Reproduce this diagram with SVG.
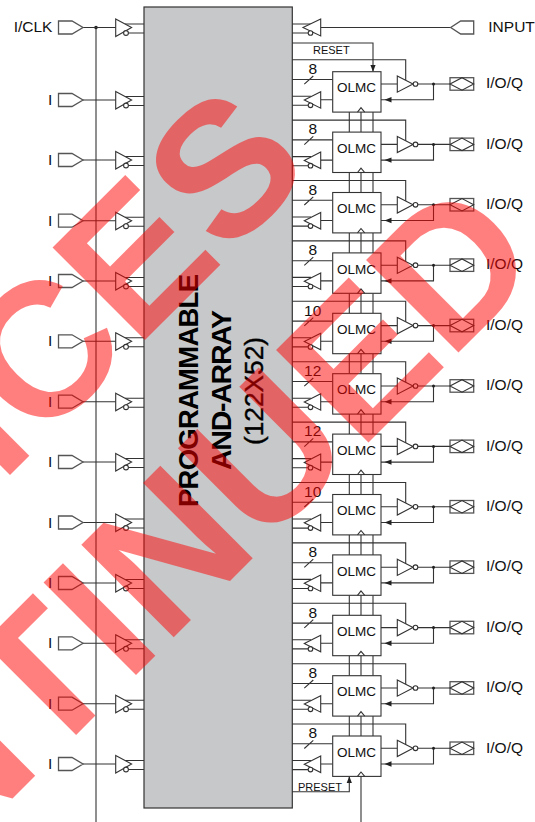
<svg xmlns="http://www.w3.org/2000/svg" xmlns:xlink="http://www.w3.org/1999/xlink" width="535" height="822" viewBox="0 0 535 822">
<style>
text{font-family:"Liberation Sans",Arial,sans-serif;fill:#111}
.w{fill:none;stroke:#333;stroke-width:1.1}
.s{fill:#fff;stroke:#333;stroke-width:1.1}
.p{fill:#fff;stroke:#555;stroke-width:1.3}
.d{fill:#222}
.l{font-size:15.5px}
.n{font-size:15.5px;text-anchor:middle}
.t{font-size:13.5px;text-anchor:middle}
.c{font-size:11px}
.a{font-weight:700;text-anchor:middle;fill:#000}
.wm{font-size:190px;font-weight:700;fill:#f00;fill-opacity:.5;letter-spacing:.5px}
</style>
<defs>
<g id="inW"><path class="w" d="M83 0H116M125 -3.5H144M128 5.5H144"/></g>
<g id="inN">
<path class="p" d="M58.5 -6.5H72L83 0L72 6.5H58.5Z"/>
<path class="s" d="M115.7 -8.5L131.6 0L115.7 9Z"/>
<circle class="s" cx="126" cy="5.5" r="2.4"/>
</g>
<g id="rowW">
<path class="w" d="M292 -12H405.7V8.8M292 7.8H332.7M304.3 12.5L313.3 4.3M381 12.3H397.3M418 12.3H450M433.5 12.3V28H381M332.7 28H320.7M292 24.5H311M292 33.6H308.2"/>
<path class="d" d="M384.5 28L391.5 25.3V30.7Z"/>
<circle class="d" cx="433.5" cy="12.3" r="1.5"/>
</g>
<g id="rowL"><path class="w" d="M349.3 40.4V60.4M361 36V60.4M373 40.4V60.4"/></g>
<g id="rowN">
<rect class="s" x="332.7" y="0" width="48.3" height="40.4"/>
<path class="w" d="M357.5 40.4L361 36L364.7 40.4"/>
<path class="s" d="M397.3 4.3L413 12.3L397.3 20.5Z"/>
<circle class="s" cx="415.5" cy="12.3" r="2.3"/>
<rect class="p" x="450" y="6" width="23.7" height="12.5"/>
<path class="w" d="M450 12.3L462 6L473.7 12.3L462 18.5Z"/>
<path class="s" d="M320.7 20L304.3 28.3L320.7 36.5Z"/>
<circle class="s" cx="310.5" cy="33.6" r="2.3"/>
</g>
</defs>

<g id="block"><rect x="144" y="7" width="148.3" height="801" fill="#c7c8ca" stroke="#333" stroke-width="1.2"/>
<text class="a" font-size="27.5" transform="translate(198,390.5) rotate(-90)" textLength="233" lengthAdjust="spacing">PROGRAMMABLE</text>
<text class="a" font-size="28.5" transform="translate(231,390) rotate(-90)" textLength="160" lengthAdjust="spacing">AND-ARRAY</text>
<text font-size="26.3" text-anchor="middle" transform="translate(263,391) rotate(-90)" style="fill:#000;stroke:#000;stroke-width:.4">(122X52)</text>
</g>

<g id="connectors">
<path class="w" d="M96 27.5V822" stroke-width="1.3"/>
<circle class="d" cx="96" cy="27.5" r="1.8"/>
<use href="#inW" y="27.5"/><use href="#inW" y="100"/><use href="#inW" y="160"/><use href="#inW" y="220.7"/><use href="#inW" y="281"/><use href="#inW" y="341.3"/><use href="#inW" y="401.7"/><use href="#inW" y="462"/><use href="#inW" y="522.5"/><use href="#inW" y="583"/><use href="#inW" y="643.3"/><use href="#inW" y="703.7"/><use href="#inW" y="764"/>
<path class="w" d="M320.7 27.5H450.7M292 24H311M292 33H308.2"/>
<path class="w" d="M292 43H373V71.7"/>
<path class="d" d="M373 71.7L370.4 65H375.6Z"/>
<path class="w" d="M292 791.7H349.3V776.3M361 772V822"/>
<path class="d" d="M349.3 776.3L346.7 783H351.9Z"/>
<use href="#rowW" y="71.7"/><use href="#rowW" y="132.1"/><use href="#rowW" y="192.5"/><use href="#rowW" y="252.9"/><use href="#rowW" y="313.3"/><use href="#rowW" y="373.7"/><use href="#rowW" y="434.1"/><use href="#rowW" y="494.5"/><use href="#rowW" y="554.9"/><use href="#rowW" y="615.3"/><use href="#rowW" y="675.7"/><use href="#rowW" y="736"/>
<use href="#rowL" y="71.7"/><use href="#rowL" y="132.1"/><use href="#rowL" y="192.5"/><use href="#rowL" y="252.9"/><use href="#rowL" y="313.3"/><use href="#rowL" y="373.7"/><use href="#rowL" y="434.1"/><use href="#rowL" y="494.5"/><use href="#rowL" y="554.9"/><use href="#rowL" y="615.3"/><use href="#rowL" y="675.7"/>
</g>

<g id="in-clk"><use href="#inN" y="27.5"/><text class="l" x="13.7" y="32">I/CLK</text></g>
<g id="in-1"><use href="#inN" y="100"/><text class="l" x="48" y="105">I</text></g>
<g id="in-2"><use href="#inN" y="160"/><text class="l" x="48" y="165">I</text></g>
<g id="in-3"><use href="#inN" y="220.7"/><text class="l" x="48" y="225.7">I</text></g>
<g id="in-4"><use href="#inN" y="281"/><text class="l" x="48" y="286">I</text></g>
<g id="in-5"><use href="#inN" y="341.3"/><text class="l" x="48" y="346.3">I</text></g>
<g id="in-6"><use href="#inN" y="401.7"/><text class="l" x="48" y="406.7">I</text></g>
<g id="in-7"><use href="#inN" y="462"/><text class="l" x="48" y="467">I</text></g>
<g id="in-8"><use href="#inN" y="522.5"/><text class="l" x="48" y="527.5">I</text></g>
<g id="in-9"><use href="#inN" y="583"/><text class="l" x="48" y="588">I</text></g>
<g id="in-10"><use href="#inN" y="643.3"/><text class="l" x="48" y="648.3">I</text></g>
<g id="in-11"><use href="#inN" y="703.7"/><text class="l" x="48" y="708.7">I</text></g>
<g id="in-12"><use href="#inN" y="764"/><text class="l" x="48" y="769">I</text></g>

<g id="input">
<path class="p" d="M473.7 21V34H460.7L450.7 27.5L460.7 21Z"/>
<path class="s" d="M320.7 19L303 27.5L320.7 36Z"/>
<circle class="s" cx="310.5" cy="33" r="2.3"/>
<text class="l" x="488.3" y="32">INPUT</text>
</g>
<g id="reset-label"><text class="c" x="313" y="53.7">RESET</text></g>
<g id="preset-label"><text class="c" x="298" y="790.7">PRESET</text></g>

<g id="olmc-1" transform="translate(0,71.7)"><use href="#rowN"/><text class="t" x="356.5" y="20.8">OLMC</text><text class="n" x="312.7" y="2.3">8</text><text class="l" x="486" y="16.5">I/O/Q</text></g>
<g id="olmc-2" transform="translate(0,132.1)"><use href="#rowN"/><text class="t" x="356.5" y="20.8">OLMC</text><text class="n" x="312.7" y="2.3">8</text><text class="l" x="486" y="16.5">I/O/Q</text></g>
<g id="olmc-3" transform="translate(0,192.5)"><use href="#rowN"/><text class="t" x="356.5" y="20.8">OLMC</text><text class="n" x="312.7" y="2.3">8</text><text class="l" x="486" y="16.5">I/O/Q</text></g>
<g id="olmc-4" transform="translate(0,252.9)"><use href="#rowN"/><text class="t" x="356.5" y="20.8">OLMC</text><text class="n" x="312.7" y="2.3">8</text><text class="l" x="486" y="16.5">I/O/Q</text></g>
<g id="olmc-5" transform="translate(0,313.3)"><use href="#rowN"/><text class="t" x="356.5" y="20.8">OLMC</text><text class="n" x="312.7" y="2.3">10</text><text class="l" x="486" y="16.5">I/O/Q</text></g>
<g id="olmc-6" transform="translate(0,373.7)"><use href="#rowN"/><text class="t" x="356.5" y="20.8">OLMC</text><text class="n" x="312.7" y="2.3">12</text><text class="l" x="486" y="16.5">I/O/Q</text></g>
<g id="olmc-7" transform="translate(0,434.1)"><use href="#rowN"/><text class="t" x="356.5" y="20.8">OLMC</text><text class="n" x="312.7" y="2.3">12</text><text class="l" x="486" y="16.5">I/O/Q</text></g>
<g id="olmc-8" transform="translate(0,494.5)"><use href="#rowN"/><text class="t" x="356.5" y="20.8">OLMC</text><text class="n" x="312.7" y="2.3">10</text><text class="l" x="486" y="16.5">I/O/Q</text></g>
<g id="olmc-9" transform="translate(0,554.9)"><use href="#rowN"/><text class="t" x="356.5" y="20.8">OLMC</text><text class="n" x="312.7" y="2.3">8</text><text class="l" x="486" y="16.5">I/O/Q</text></g>
<g id="olmc-10" transform="translate(0,615.3)"><use href="#rowN"/><text class="t" x="356.5" y="20.8">OLMC</text><text class="n" x="312.7" y="2.3">8</text><text class="l" x="486" y="16.5">I/O/Q</text></g>
<g id="olmc-11" transform="translate(0,675.7)"><use href="#rowN"/><text class="t" x="356.5" y="20.8">OLMC</text><text class="n" x="312.7" y="2.3">8</text><text class="l" x="486" y="16.5">I/O/Q</text></g>
<g id="olmc-12" transform="translate(0,736)"><use href="#rowN"/><text class="t" x="356.5" y="20.8">OLMC</text><text class="n" x="312.7" y="2.3">8</text><text class="l" x="486" y="16.5">I/O/Q</text></g>

<g id="watermark">
<text class="wm" transform="translate(1,484) rotate(-45)">ICES</text>
<text class="wm" transform="translate(-52.7,863.7) rotate(-45)">NTINUED</text>
</g>
</svg>
